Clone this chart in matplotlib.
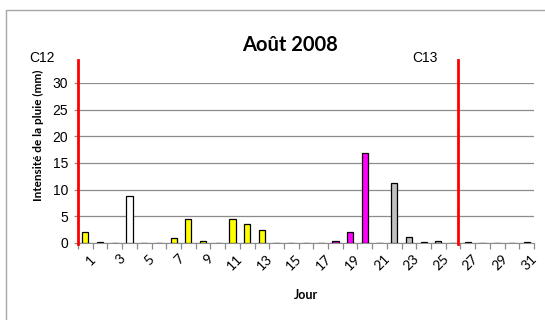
import matplotlib
matplotlib.use("Agg")
import matplotlib.pyplot as plt
import matplotlib.patches as mpatches
import matplotlib.transforms as mtransforms
import numpy as np

days = list(range(1, 32))
rain_mm = [2.0, 0.2, 0, 8.8, 0, 0, 1.0, 4.5, 0.4, 0, 4.5, 3.5, 2.5, 0, 0, 0,
           0, 0.4, 2.0, 16.9, 0, 11.3, 1.2, 0.2, 0.4, 0, 0.2, 0, 0, 0, 0.2]
bar_colors = (["#FFFF00", "#FFFFFF", "#FFFFFF", "#FFFFFF", "#FFFF00", "#FFFF00",
               "#FFFF00", "#FFFF00", "#FFFF00", "#FFFF00", "#FFFF00", "#FFFF00",
               "#FFFF00", "#FFFF00", "#FFFF00", "#FF00FF", "#FF00FF", "#FF00FF",
               "#FF00FF", "#FF00FF", "#C0C0C0"] + ["#C0C0C0"] * 10)
odd_labels = [str(d) for d in days if d % 2 == 1]
cycle_marks = [0.5, 26.35]
cycle_names = ["C12", "C13"]

W, H = 545, 320
fig = plt.figure(figsize=(W / 100, H / 100), dpi=100)

# chart frame (only left and top edges fall inside the image)
fig.patches.append(mpatches.Rectangle((6 / W, -0.5), 2.0, 0.5 + (H - 10) / H,
                                      transform=fig.transFigure, fill=False,
                                      edgecolor="#A6A6A6", linewidth=1.0))

ax = fig.add_axes([78 / W, 1 - 243 / H, (534 - 78) / W, (243 - 83) / H])
ax.bar(days, rain_mm, width=0.42, color=bar_colors, edgecolor="black",
       linewidth=0.9, zorder=3)

ax.set_xlim(0.5, 31.5)
ax.set_ylim(0, 30)
ax.set_yticks(range(0, 31, 5))
ax.yaxis.grid(True, color="#8C8C8C", linewidth=0.9, zorder=0)
for s in ["top", "right", "left"]:
    ax.spines[s].set_visible(False)
ax.spines["bottom"].set_color("#8C8C8C")

ax.set_xticks([d for d in days if d % 2 == 1])
ax.set_xticklabels(odd_labels, rotation=45, ha="right", va="top",
                   rotation_mode="anchor", fontsize=10, family="Lato")
ax.set_xticks(np.arange(0.5, 32, 1), minor=True)
ax.tick_params(axis="x", which="major", length=0, pad=7)
ax.tick_params(axis="x", which="minor", length=4, color="#8C8C8C", width=0.9)
ax.tick_params(axis="y", length=3, color="#8C8C8C", width=0.9, pad=4,
               labelsize=10)
for lab in ax.get_yticklabels():
    lab.set_family("Liberation Sans")
offset = mtransforms.ScaledTranslation(4 / 100, 0, fig.dpi_scale_trans)
for lab in ax.get_xticklabels():
    lab.set_transform(lab.get_transform() + offset)

for xm in cycle_marks:
    ax.plot([xm, xm], [-0.2, 34.3], color="#FF0000", linewidth=2,
            clip_on=False, zorder=4)

fig.text(42 / W, 1 - 58 / H, cycle_names[0], ha="center", va="center",
         fontsize=10, family="Liberation Sans")
fig.text(425 / W, 1 - 58 / H, cycle_names[1], ha="center", va="center",
         fontsize=10, family="Liberation Sans")

fig.text(290 / W, 1 - 45 / H, "Août 2008", ha="center", va="center",
         fontsize=14.5, fontweight="bold", family="Lato")
fig.text(38 / W, 1 - 135 / H, "Intensité de la pluie (mm)", ha="center",
         va="center", rotation=90, fontsize=8.5, fontweight="bold", family="Lato")
fig.text(306 / W, 1 - 295 / H, "Jour", ha="center", va="center",
         fontsize=9, fontweight="bold", family="Lato")

fig.savefig("out.png", dpi=100)
